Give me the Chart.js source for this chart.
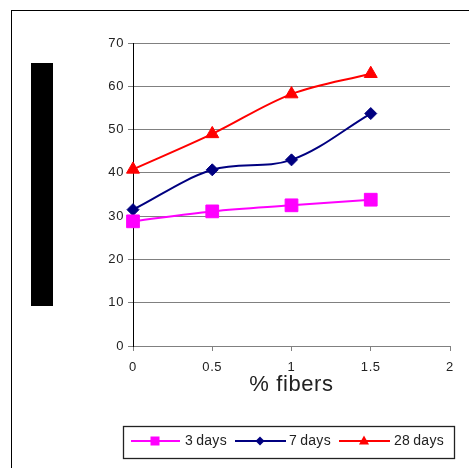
<!DOCTYPE html>
<html>
<head>
<meta charset="utf-8">
<script src="https://cdn.jsdelivr.net/npm/chart.js@4/dist/chart.umd.min.js"></script>
<style>
  html, body { margin: 0; padding: 0; background: #fff; }
  #wrap { width: 469px; height: 468px; position: relative; }
</style>
</head>
<body>
<div id="wrap"><canvas id="c" width="469" height="468"></canvas></div>
<script>
// ---- data ----
const fiberPct = [0, 0.5, 1, 1.5];
const days3 = [28.8, 31.1, 32.5, 33.8];
const days7 = [31.5, 40.7, 43.0, 53.7];
const days28 = [40.8, 49.0, 58.2, 62.9];
const seriesLabels = ['3 days', '7 days', '28 days'];
const xTickLabels = ['0', '0.5', '1', '1.5', '2'];
const xAxisTitle = '% fibers';

const FONT = "'Liberation Sans', Arial, sans-serif";

function pts(vals) { return fiberPct.map((x, i) => ({ x: x, y: vals[i] })); }

const decor = {
  id: 'decor',
  beforeDraw(chart) {
    chart.ctx.letterSpacing = '0.6px';
  },
  afterDraw(chart) {
    const ctx = chart.ctx;
    ctx.save();
    // outer frame
    ctx.strokeStyle = '#000';
    ctx.lineWidth = 1;
    ctx.strokeRect(11.5, 10.5, 600, 600);
    // redacted vertical block
    ctx.fillStyle = '#000';
    ctx.fillRect(31, 63, 22, 243);
    // legend box
    ctx.strokeStyle = '#222';
    ctx.lineWidth = 1.3;
    ctx.strokeRect(123.5, 426.5, 331, 32);
    const items = [
      { line: [131, 180], mx: 155, tx: 185 },
      { line: [235, 286], mx: 260, tx: 289 },
      { line: [339, 390], mx: 364, tx: 394 }
    ];
    const y = 441;
    chart.data.datasets.forEach((ds, i) => {
      const it = items[i];
      ctx.strokeStyle = ds.borderColor;
      ctx.lineWidth = 2;
      ctx.beginPath();
      ctx.moveTo(it.line[0], y);
      ctx.lineTo(it.line[1], y);
      ctx.stroke();
      ctx.fillStyle = ds.borderColor;
      ctx.beginPath();
      if (ds.pointStyle === 'rect') {
        ctx.rect(it.mx - 4.5, y - 4.5, 9, 9);
      } else if (ds.pointStyle === 'rectRot') {
        ctx.moveTo(it.mx, y - 4.5); ctx.lineTo(it.mx + 4.5, y);
        ctx.lineTo(it.mx, y + 4.5); ctx.lineTo(it.mx - 4.5, y); ctx.closePath();
      } else {
        ctx.moveTo(it.mx, y - 5.5); ctx.lineTo(it.mx + 5, y + 3.5);
        ctx.lineTo(it.mx - 5, y + 3.5); ctx.closePath();
      }
      ctx.fill();
      ctx.fillStyle = '#222';
      ctx.font = '14px ' + FONT;
      ctx.letterSpacing = '0.3px';
      ctx.textBaseline = 'middle';
      ctx.textAlign = 'left';
      ctx.fillText(ds.label.replace(' ', '\u2009'), it.tx, y);
    });
    ctx.restore();
  }
};

new Chart(document.getElementById('c'), {
  type: 'line',
  data: {
    datasets: [
      { label: seriesLabels[0], data: pts(days3), borderColor: '#ff00ff', backgroundColor: '#ff00ff',
        pointStyle: 'rect', pointRadius: 9, pointBorderWidth: 1, borderWidth: 2, clip: false },
      { label: seriesLabels[1], data: pts(days7), borderColor: '#000080', backgroundColor: '#000080',
        pointStyle: 'rectRot', pointRadius: 6, pointBorderWidth: 1, borderWidth: 2, clip: false },
      { label: seriesLabels[2], data: pts(days28), borderColor: '#ff0000', backgroundColor: '#ff0000',
        pointStyle: 'triangle', pointRadius: 7.5, pointBorderWidth: 1, borderWidth: 2, clip: false }
    ]
  },
  options: {
    responsive: false,
    animation: false,
    devicePixelRatio: 1,
    layout: { padding: { left: 93, right: 19, top: 43, bottom: 70 } },
    elements: { line: { tension: 0.35 } },
    plugins: { legend: { display: false }, tooltip: { enabled: false } },
    scales: {
      x: {
        type: 'linear', min: 0, max: 2,
        ticks: { stepSize: 0.5, color: '#222', font: { family: FONT, size: 13 }, padding: 9, maxRotation: 0,
          callback: (v, i) => xTickLabels[i] },
        grid: { drawOnChartArea: false, drawTicks: true, tickLength: 5, color: '#808080', lineWidth: 1 },
        border: { color: '#808080', width: 1 },
        title: { display: true, text: xAxisTitle, color: '#222', font: { family: FONT, size: 22 }, padding: { top: 0, bottom: 0 } },
        afterFit(scale) { scale.height = 52; }
      },
      y: {
        min: 0, max: 70,
        ticks: { stepSize: 10, color: '#222', font: { family: FONT, size: 13 }, padding: 4 },
        grid: { color: '#808080', lineWidth: 1, tickLength: 5 },
        border: { color: '#000', width: 1 },
        afterFit(scale) { scale.width = 40; }
      }
    }
  },
  plugins: [decor]
});
</script>
</body>
</html>
